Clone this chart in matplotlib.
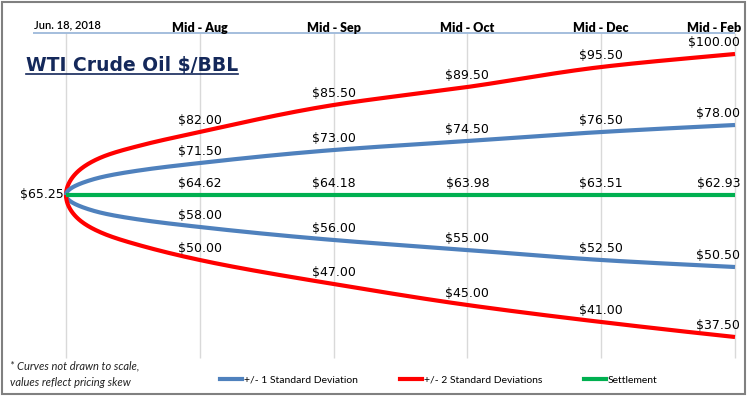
import matplotlib
matplotlib.use("Agg")
import matplotlib.pyplot as plt
from matplotlib.lines import Line2D
from matplotlib.patches import Rectangle
import numpy as np

# column headers and printed values
dates = ["Jun. 18, 2018", "Mid - Aug", "Mid - Sep", "Mid - Oct", "Mid - Dec", "Mid - Feb"]
settle = [65.25, 64.62, 64.18, 63.98, 63.51, 62.93]
sd1_up = [65.25, 71.50, 73.00, 74.50, 76.50, 78.00]
sd1_dn = [65.25, 58.00, 56.00, 55.00, 52.50, 50.50]
sd2_up = [65.25, 82.00, 85.50, 89.50, 95.50, 100.00]
sd2_dn = [65.25, 50.00, 47.00, 45.00, 41.00, 37.50]

# drawn (not to scale) curve heights, knots in column units
knots = [0, 0.12, 0.27, 0.57, 1, 2, 3, 4, 5]
shape_sd2_up = [0, 27, 38, 50, 63, 90, 108, 128, 141]
shape_sd1_up = [0, 12, 18, 25, 32, 45, 54, 63, 70]
shape_sd1_dn = [0, -12, -18, -25, -32, -45, -55, -65, -72]
shape_sd2_dn = [0, -27, -38, -51, -65, -89, -110, -127, -142]

RED = "#FF0000"
BLUE = "#4F81BD"
GREEN = "#00B050"
NAVY = "#14285A"


def pchip(x, y, xn):
    x = np.asarray(x, float)
    y = np.asarray(y, float)
    h = np.diff(x)
    d = np.diff(y) / h
    m = np.zeros_like(y)
    m[0] = d[0]
    m[-1] = d[-1]
    for k in range(1, len(x) - 1):
        if d[k - 1] * d[k] > 0:
            w1 = 2 * h[k] + h[k - 1]
            w2 = h[k] + 2 * h[k - 1]
            m[k] = (w1 + w2) / (w1 / d[k - 1] + w2 / d[k])
    idx = np.clip(np.searchsorted(x, xn) - 1, 0, len(x) - 2)
    s = (xn - x[idx]) / h[idx]
    h00 = 2 * s**3 - 3 * s**2 + 1
    h10 = s**3 - 2 * s**2 + s
    h01 = -2 * s**3 + 3 * s**2
    h11 = s**3 - s**2
    return h00 * y[idx] + h10 * h[idx] * m[idx] + h01 * y[idx + 1] + h11 * h[idx] * m[idx + 1]


def curve(shape):
    # smooth in sqrt(t) so the curves leave the origin like a cone
    u = np.sqrt(np.array(knots, float))
    un = np.linspace(0, u[-1], 400)
    return un**2, pchip(u, shape, un)


fig = plt.figure(figsize=(7.48, 3.98), dpi=100)
ax = fig.add_axes([0, 0, 1, 1])
px = 133.8  # pixels per column
ax.set_xlim(-66 / px, (748 - 66) / px)
ax.set_ylim(-203, 195)
ax.axis("off")

cols = np.arange(len(dates))
ax.vlines(cols, -163, 162, color="#D9D9D9", lw=1, zorder=1)
ax.hlines(162, -33 / px, 5, color="#95B3D7", lw=1.2, zorder=2)

for shape, col in [(shape_sd2_up, RED), (shape_sd1_up, BLUE),
                   (shape_sd1_dn, BLUE), (shape_sd2_dn, RED)]:
    xs, ys = curve(shape)
    ax.plot(xs, ys, color=col, lw=3, solid_capstyle="butt", zorder=3)
ax.plot([0, 5], [0, 0], color=GREEN, lw=3, solid_capstyle="butt", zorder=4)

# value labels
series = [(sd2_up, shape_sd2_up), (sd1_up, shape_sd1_up), (settle, [0] * len(knots)),
          (sd1_dn, shape_sd1_dn), (sd2_dn, shape_sd2_dn)]
for vals, shape in series:
    for i in range(1, len(vals)):
        yk = shape[knots.index(i)]
        if i == len(vals) - 1:
            ax.annotate(f"${vals[i]:.2f}", (i, yk), xytext=(3.6, 8), textcoords="offset points",
                        ha="right", va="center", fontsize=9, color="black")
        else:
            ax.annotate(f"${vals[i]:.2f}", (i, yk), xytext=(0, 8), textcoords="offset points",
                        ha="center", va="center", fontsize=9, color="black")
ax.annotate(f"${settle[0]:.2f}", (0, 0), xytext=(-1.5, 0), textcoords="offset points",
            ha="right", va="center", fontsize=9, color="black")

# column headers
for i, lab in enumerate(dates):
    if i == 0:
        ax.annotate(lab, (0, 162), xytext=(-23, 5.5), textcoords="offset points",
                    ha="left", va="center", fontsize=8, family="Lato", weight="semibold",
                    color="black")
    elif i == len(dates) - 1:
        ax.annotate(lab, (i, 162), xytext=(4.3, 3.6), textcoords="offset points",
                    ha="right", va="center", fontsize=9, family="Lato", weight="heavy")
    else:
        ax.annotate(lab, (i, 162), xytext=(0, 3.6), textcoords="offset points",
                    ha="center", va="center", fontsize=9, family="Lato", weight="heavy")

# title with underline
title = fig.text(26 / 748, 1 - 65 / 398, "WTI Crude Oil $/BBL", ha="left", va="center",
                 fontsize=13.5, weight="bold", color=NAVY)
fig.canvas.draw()
bb = title.get_window_extent().transformed(fig.transFigure.inverted())
fig.add_artist(Line2D([bb.x0, bb.x1], [1 - 74 / 398] * 2, transform=fig.transFigure,
                      color=NAVY, lw=1.2))

fig.text(10 / 748, 1 - 374 / 398, "* Curves not drawn to scale,\nvalues reflect pricing skew",
         ha="left", va="center", fontsize=8, family="Lato", style="italic",
         color="#222222", linespacing=1.6)

handles = [Line2D([], [], color=BLUE, lw=3),
           Line2D([], [], color=RED, lw=3),
           Line2D([], [], color=GREEN, lw=3)]
fig.legend(handles, ["+/- 1 Standard Deviation", "+/- 2 Standard Deviations", "Settlement"],
           loc="center", bbox_to_anchor=(439 / 748, 1 - 380 / 398), ncol=3, frameon=False,
           prop={"family": "Lato", "size": 7.5}, handlelength=2.1, handletextpad=0.2,
           columnspacing=4.0)

fig.add_artist(Rectangle((2 / 748, 4 / 398), 743 / 748, 392 / 398, transform=fig.transFigure,
                         fill=False, edgecolor="#808080", lw=1.5))

fig.savefig("out.png", dpi=100)
